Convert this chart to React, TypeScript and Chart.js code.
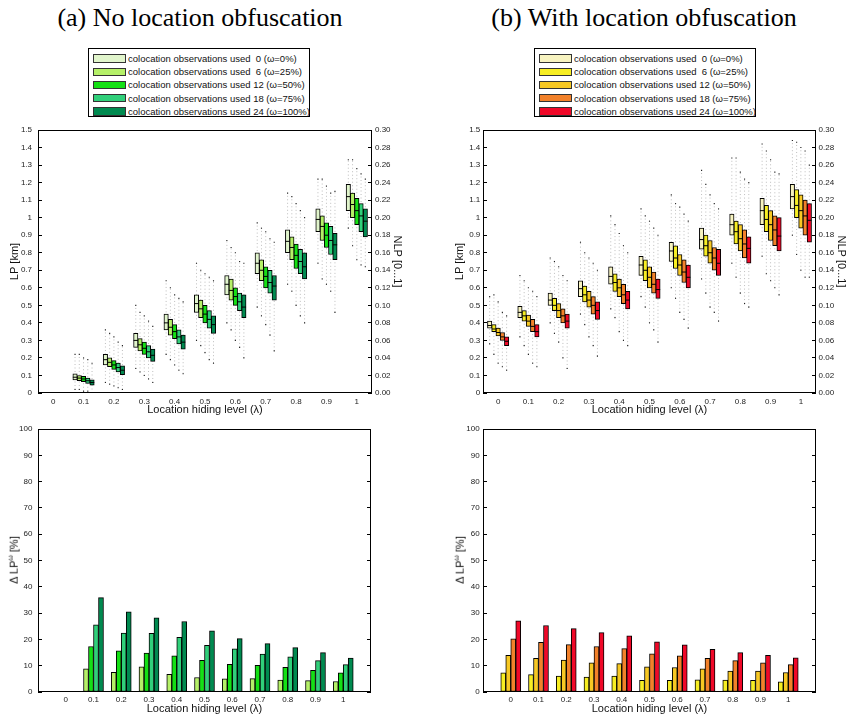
import React, { useEffect, useRef } from 'react';
import { Chart, registerables } from 'chart.js';

Chart.register(...registerables);

// ---------- data ----------
const lambdas = [0, 0.1, 0.2, 0.3, 0.4, 0.5, 0.6, 0.7, 0.8, 0.9, 1];
const lambdaLabels = ['0', '0.1', '0.2', '0.3', '0.4', '0.5', '0.6', '0.7', '0.8', '0.9', '1'];

const lpTicks = [0, 0.1, 0.2, 0.3, 0.4, 0.5, 0.6, 0.7, 0.8, 0.9, 1, 1.1, 1.2, 1.3, 1.4, 1.5];
const lpTickLabels = ['0', '0.1', '0.2', '0.3', '0.4', '0.5', '0.6', '0.7', '0.8', '0.9', '1', '1.1', '1.2', '1.3', '1.4', '1.5'];
const nlpTicks = [0, 0.02, 0.04, 0.06, 0.08, 0.1, 0.12, 0.14, 0.16, 0.18, 0.2, 0.22, 0.24, 0.26, 0.28, 0.3];
const nlpTickLabels = ['0.00', '0.02', '0.04', '0.06', '0.08', '0.10', '0.12', '0.14', '0.16', '0.18', '0.20', '0.22', '0.24', '0.26', '0.28', '0.30'];
const pctTicks = [0, 10, 20, 30, 40, 50, 60, 70, 80, 90, 100];
const pctTickLabels = ['0', '10', '20', '30', '40', '50', '60', '70', '80', '90', '100'];

const seriesLabels = [
  'colocation observations used  0 (\u03c9=0%)',
  'colocation observations used  6 (\u03c9=25%)',
  'colocation observations used 12 (\u03c9=50%)',
  'colocation observations used 18 (\u03c9=75%)',
  'colocation observations used 24 (\u03c9=100%)',
];

const greenColors = ['#e1f5cc', '#b5f068', '#14e014', '#30d07a', '#008a50'];
const warmColors = ['#f7f3c0', '#f7ee23', '#f7c823', '#f2812a', '#f00828'];

// (a) No obfuscation: LP box statistics, rows = series (omega 0..100%), cols = lambda
const aMed = [
  [null, 0.09, 0.19, 0.30, 0.40, 0.51, 0.62, 0.74, 0.865, 0.99, 1.12],
  [null, 0.085, 0.175, 0.275, 0.375, 0.48, 0.585, 0.70, 0.83, 0.95, 1.075],
  [null, 0.08, 0.16, 0.255, 0.35, 0.45, 0.55, 0.665, 0.785, 0.90, 1.04],
  [null, 0.07, 0.145, 0.235, 0.32, 0.42, 0.52, 0.63, 0.75, 0.87, 1.01],
  [null, 0.06, 0.13, 0.215, 0.29, 0.39, 0.49, 0.61, 0.72, 0.845, 0.98],
];
const aQ3 = [
  [null, 0.11, 0.22, 0.34, 0.45, 0.56, 0.67, 0.80, 0.93, 1.05, 1.19],
  [null, 0.10, 0.20, 0.31, 0.42, 0.53, 0.65, 0.76, 0.89, 1.01, 1.14],
  [null, 0.095, 0.185, 0.29, 0.39, 0.50, 0.60, 0.72, 0.85, 0.97, 1.11],
  [null, 0.085, 0.17, 0.27, 0.36, 0.47, 0.57, 0.70, 0.82, 0.95, 1.08],
  [null, 0.075, 0.155, 0.25, 0.33, 0.44, 0.56, 0.67, 0.80, 0.91, 1.05],
];
const aQ1 = [
  [null, 0.075, 0.16, 0.26, 0.36, 0.46, 0.56, 0.68, 0.80, 0.92, 1.04],
  [null, 0.07, 0.15, 0.24, 0.33, 0.43, 0.53, 0.64, 0.76, 0.87, 1.00],
  [null, 0.065, 0.135, 0.22, 0.31, 0.40, 0.50, 0.60, 0.71, 0.83, 0.96],
  [null, 0.055, 0.12, 0.20, 0.28, 0.37, 0.47, 0.57, 0.68, 0.79, 0.92],
  [null, 0.045, 0.105, 0.18, 0.25, 0.34, 0.43, 0.53, 0.65, 0.76, 0.89],
];
const aHi = [
  [null, 0.22, 0.36, 0.50, 0.64, 0.74, 0.87, 0.97, 1.14, 1.22, 1.33],
  [null, 0.22, 0.34, 0.46, 0.60, 0.70, 0.83, 0.94, 1.12, 1.22, 1.33],
  [null, 0.20, 0.32, 0.44, 0.56, 0.68, 0.80, 0.92, 1.08, 1.18, 1.28],
  [null, 0.19, 0.29, 0.41, 0.54, 0.66, 0.75, 0.88, 1.04, 1.14, 1.25],
  [null, 0.17, 0.27, 0.38, 0.52, 0.64, 0.74, 0.86, 1.00, 1.15, 1.22],
];
const aLo = [
  [null, 0.02, 0.06, 0.14, 0.22, 0.30, 0.40, 0.49, 0.62, 0.74, 0.94],
  [null, 0.02, 0.05, 0.12, 0.19, 0.27, 0.36, 0.44, 0.58, 0.65, 0.84],
  [null, 0.01, 0.04, 0.10, 0.16, 0.23, 0.30, 0.39, 0.50, 0.62, 0.76],
  [null, 0.01, 0.03, 0.08, 0.13, 0.19, 0.26, 0.33, 0.44, 0.58, 0.73],
  [null, 0.00, 0.02, 0.06, 0.11, 0.17, 0.20, 0.24, 0.40, 0.46, 0.72],
];

// (b) With obfuscation
const bMed = [
  [0.385, 0.46, 0.53, 0.595, 0.665, 0.73, 0.81, 0.875, 0.96, 1.04, 1.12],
  [0.365, 0.44, 0.50, 0.56, 0.63, 0.70, 0.77, 0.84, 0.92, 0.99, 1.07],
  [0.345, 0.41, 0.47, 0.53, 0.60, 0.66, 0.73, 0.80, 0.88, 0.96, 1.04],
  [0.32, 0.38, 0.44, 0.50, 0.56, 0.62, 0.69, 0.77, 0.85, 0.93, 1.01],
  [0.295, 0.35, 0.41, 0.47, 0.53, 0.59, 0.66, 0.74, 0.825, 0.895, 0.985],
];
const bQ3 = [
  [0.41, 0.495, 0.57, 0.64, 0.72, 0.78, 0.86, 0.94, 1.02, 1.11, 1.19],
  [0.39, 0.47, 0.54, 0.61, 0.68, 0.76, 0.84, 0.90, 0.98, 1.07, 1.16],
  [0.37, 0.445, 0.51, 0.58, 0.65, 0.72, 0.79, 0.87, 0.96, 1.04, 1.13],
  [0.345, 0.42, 0.48, 0.55, 0.62, 0.69, 0.76, 0.83, 0.93, 1.01, 1.10],
  [0.32, 0.39, 0.45, 0.52, 0.58, 0.65, 0.73, 0.82, 0.89, 1.00, 1.08],
];
const bQ1 = [
  [0.37, 0.43, 0.50, 0.55, 0.62, 0.67, 0.75, 0.82, 0.90, 0.96, 1.05],
  [0.35, 0.41, 0.47, 0.52, 0.58, 0.64, 0.71, 0.78, 0.85, 0.92, 1.00],
  [0.325, 0.38, 0.43, 0.49, 0.55, 0.60, 0.67, 0.74, 0.81, 0.87, 0.94],
  [0.30, 0.35, 0.40, 0.45, 0.51, 0.57, 0.63, 0.70, 0.77, 0.84, 0.90],
  [0.27, 0.32, 0.37, 0.42, 0.48, 0.54, 0.60, 0.67, 0.74, 0.81, 0.86],
];
const bHi = [
  [0.55, 0.67, 0.77, 0.86, 1.01, 1.05, 1.13, 1.27, 1.34, 1.42, 1.44],
  [0.56, 0.64, 0.75, 0.80, 0.96, 1.01, 1.08, 1.19, 1.34, 1.38, 1.43],
  [0.52, 0.60, 0.72, 0.77, 0.91, 0.98, 1.06, 1.13, 1.26, 1.33, 1.40],
  [0.46, 0.58, 0.67, 0.74, 0.84, 0.94, 1.02, 1.08, 1.22, 1.26, 1.38],
  [0.44, 0.55, 0.64, 0.70, 0.80, 0.90, 0.98, 1.05, 1.20, 1.25, 1.30],
];
const bLo = [
  [0.28, 0.32, 0.40, 0.45, 0.48, 0.55, 0.60, 0.65, 0.74, 0.78, 0.90],
  [0.22, 0.27, 0.34, 0.39, 0.43, 0.49, 0.54, 0.57, 0.66, 0.68, 0.79],
  [0.17, 0.22, 0.29, 0.32, 0.35, 0.40, 0.46, 0.49, 0.57, 0.64, 0.70],
  [0.15, 0.17, 0.20, 0.27, 0.30, 0.36, 0.42, 0.46, 0.51, 0.60, 0.66],
  [0.13, 0.15, 0.14, 0.21, 0.27, 0.29, 0.37, 0.41, 0.49, 0.56, 0.66],
];

// Delta LP^omega [%], rows = omega 25%, 50%, 75%, 100%
const aDelta = [
  [0, 8.8, 7.5, 9.6, 6.7, 5.5, 5.0, 5.1, 4.5, 4.3, 4.0],
  [0, 17.3, 15.7, 14.8, 13.8, 12.0, 10.5, 10.1, 9.4, 8.2, 7.3],
  [0, 25.5, 22.4, 22.3, 20.8, 17.7, 16.4, 14.4, 13.4, 11.9, 10.4],
  [0, 35.9, 30.5, 28.2, 26.8, 23.3, 20.3, 18.4, 16.9, 15.0, 12.9],
];
const bDelta = [
  [7.3, 6.6, 6.1, 5.7, 6.1, 4.4, 4.4, 4.6, 4.5, 4.4, 3.9],
  [13.9, 12.8, 12.1, 11.1, 10.8, 9.6, 9.3, 8.8, 8.0, 8.0, 7.4],
  [20.2, 18.9, 18.0, 17.3, 16.5, 14.5, 13.8, 12.8, 11.9, 11.1, 10.4],
  [27.1, 25.3, 24.1, 22.6, 21.4, 19.1, 17.9, 16.2, 15.0, 13.9, 13.0],
];

// ---------- styling ----------
const SANS = '"Liberation Sans", Arial, Helvetica, sans-serif';
const SERIF = '"Liberation Serif", "Times New Roman", serif';
Chart.defaults.font.family = SANS;

const BOX_STEP = 0.014;
const BAR_STEP = 0.018;

const framePlugin = {
  id: 'frame',
  afterDraw(chart: any) {
    const { ctx, chartArea } = chart;
    const l = Math.round(chartArea.left) + 0.5;
    const t = Math.round(chartArea.top) + 0.5;
    const r = Math.round(chartArea.right) - 0.5;
    const b = Math.round(chartArea.bottom) - 0.5;
    ctx.save();
    ctx.strokeStyle = '#000';
    ctx.lineWidth = 1;
    ctx.strokeRect(l, t, r - l, b - t);
    ctx.restore();
  },
};

function setTicks(values: number[]) {
  return (s: any) => {
    s.ticks = values.map((v) => ({ value: v }));
  };
}

function xAxis(min: number, max: number, height: number, labelPad: number, titlePad: number) {
  return {
    type: 'linear',
    min,
    max,
    offset: false,
    afterBuildTicks: setTicks(lambdas),
    afterFit: (s: any) => {
      s.height = height;
      s.paddingLeft = 0;
      s.paddingRight = 0;
    },
    grid: { display: false, drawTicks: false },
    border: { display: false },
    ticks: {
      autoSkip: false,
      maxRotation: 0,
      padding: labelPad,
      color: '#222',
      font: { size: 8 },
      callback: (_v: any, i: number) => lambdaLabels[i],
    },
    title: {
      display: true,
      text: 'Location hiding level (\u03bb)',
      color: '#111',
      font: { size: 11 },
      padding: { top: 0, bottom: titlePad },
    },
  };
}

function yAxis(opts: any) {
  const { position, min, max, ticks, labels, width, pad, title, titlePad, showLabels = true } = opts;
  return {
    type: 'linear',
    position,
    min,
    max,
    afterBuildTicks: setTicks(ticks),
    afterFit: (s: any) => {
      s.width = width;
      s.paddingTop = 0;
      s.paddingBottom = 0;
    },
    grid: { display: true, drawOnChartArea: false, drawTicks: true, tickLength: -4, color: '#000' },
    border: { display: false },
    ticks: {
      display: showLabels,
      autoSkip: false,
      padding: pad,
      color: '#222',
      font: { size: 8 },
      callback: (_v: any, i: number) => labels[i],
    },
    title: title
      ? { display: true, text: title, color: '#111', font: { size: 11 }, padding: { top: titlePad, bottom: 0 } }
      : { display: false },
  };
}

function boxDatasets(med: any[][], q1: any[][], q3: any[][], lo: any[][], hi: any[][], colors: string[]) {
  const ds: any[] = [];
  for (let s = 0; s < med.length; s++) {
    const off = (s - 2) * BOX_STEP;
    const idx = lambdas.map((_, i) => i).filter((i) => med[s][i] !== null);
    ds.push({
      type: 'line',
      data: idx.flatMap((i) => [
        { x: lambdas[i] + off, y: lo[s][i] },
        { x: lambdas[i] + off, y: hi[s][i] },
        { x: lambdas[i] + off, y: null },
      ]),
      borderColor: '#bdbdbd',
      borderWidth: 1,
      borderDash: [1, 2.5],
      pointRadius: 0,
      spanGaps: false,
      order: 4,
    });
    ds.push({
      type: 'line',
      showLine: false,
      data: idx.flatMap((i) => [
        { x: lambdas[i] + off, y: lo[s][i] },
        { x: lambdas[i] + off, y: hi[s][i] },
      ]),
      pointStyle: 'rect',
      pointRadius: 0.8,
      pointBackgroundColor: '#222',
      pointBorderWidth: 0,
      order: 3,
    });
    ds.push({
      type: 'bar',
      label: seriesLabels[s],
      data: idx.map((i) => ({ x: lambdas[i] + off, y: [q1[s][i], q3[s][i]] })),
      backgroundColor: colors[s],
      borderColor: '#000',
      borderWidth: 1,
      borderSkipped: false,
      barThickness: 4.4,
      grouped: false,
      order: 2,
    });
    ds.push({
      type: 'line',
      showLine: false,
      data: idx.map((i) => ({ x: lambdas[i] + off, y: med[s][i] })),
      pointStyle: 'line',
      pointRadius: 2.2,
      pointBorderColor: '#000',
      pointBorderWidth: 1,
      order: 1,
    });
  }
  return ds;
}

function boxConfig(d: any, lay: any) {
  return {
    type: 'bar',
    data: { datasets: boxDatasets(d.med, d.q1, d.q3, d.lo, d.hi, d.colors) },
    options: {
      responsive: false,
      maintainAspectRatio: false,
      animation: false,
      devicePixelRatio: 1,
      events: [],
      layout: { padding: { top: lay.top, left: 0, right: 0, bottom: 0 } },
      plugins: { legend: { display: false }, tooltip: { enabled: false } },
      scales: {
        x: xAxis(-0.05, 1.05, lay.xh, 4, 3),
        y: yAxis({ position: 'left', min: 0, max: 1.5, ticks: lpTicks, labels: lpTickLabels, width: lay.yw, pad: lay.ypad, title: 'LP [km]', titlePad: lay.ytp }),
        y2: yAxis({ position: 'right', min: 0, max: 0.3, ticks: nlpTicks, labels: nlpTickLabels, width: lay.y2w, pad: lay.y2pad, title: 'NLP [0...1]', titlePad: lay.y2tp }),
      },
    },
    plugins: [framePlugin],
  };
}

function barConfig(delta: number[][], colors: string[], lay: any) {
  const datasets = delta.map((row, k) => ({
    type: 'bar',
    label: seriesLabels[k + 1],
    data: lambdas.map((l, i) => ({ x: l + (k - 1.5) * BAR_STEP, y: row[i] })),
    backgroundColor: colors[k + 1],
    borderColor: '#000',
    borderWidth: 1,
    borderSkipped: false,
    barThickness: 5,
    grouped: false,
  }));
  return {
    type: 'bar',
    data: { datasets },
    options: {
      responsive: false,
      maintainAspectRatio: false,
      animation: false,
      devicePixelRatio: 1,
      events: [],
      layout: { padding: { top: lay.top, left: 0, right: 0, bottom: 0 } },
      plugins: { legend: { display: false }, tooltip: { enabled: false } },
      scales: {
        x: xAxis(-0.1, 1.1, lay.xh, 3, 4),
        y: yAxis({ position: 'left', min: 0, max: 100, ticks: pctTicks, labels: pctTickLabels, width: lay.yw, pad: lay.ypad }),
        y2: yAxis({ position: 'right', min: 0, max: 100, ticks: pctTicks, labels: pctTickLabels, width: lay.y2w, pad: 4, showLabels: false }),
      },
    },
    plugins: [framePlugin],
  };
}

function ChartCanvas({ left, top, width, height, make }: any) {
  const ref = useRef<HTMLCanvasElement>(null);
  useEffect(() => {
    const chart = new Chart(ref.current as HTMLCanvasElement, make());
    return () => chart.destroy();
  }, []);
  return (
    <canvas
      ref={ref}
      width={width}
      height={height}
      style={{ position: 'absolute', left, top, width, height, display: 'block' }}
    />
  );
}

function Legend({ left, colors }: any) {
  return (
    <div
      style={{
        position: 'absolute',
        left,
        top: 48,
        width: 222,
        height: 69,
        boxSizing: 'border-box',
        border: '1px solid #000',
        background: '#fff',
        paddingTop: 3,
        paddingLeft: 4,
        fontFamily: SANS,
        fontSize: 9.5,
      }}
    >
      {seriesLabels.map((lab, i) => (
        <div key={i} style={{ display: 'flex', alignItems: 'center', height: 13.2 }}>
          <div
            style={{
              width: 33,
              height: 8.5,
              boxSizing: 'border-box',
              border: '1px solid #333',
              background: colors[i],
              marginRight: 2,
              flex: 'none',
            }}
          />
          <span style={{ whiteSpace: 'pre', color: '#111' }}>{lab}</span>
        </div>
      ))}
    </div>
  );
}

function DeltaTitle({ x }: any) {
  return (
    <div
      style={{
        position: 'absolute',
        left: x,
        top: 560,
        transform: 'translate(-50%, -50%) rotate(-90deg)',
        fontFamily: SANS,
        fontSize: 11,
        color: '#111',
        whiteSpace: 'nowrap',
        lineHeight: 1,
      }}
    >
      {'\u0394 LP'}
      <sup style={{ fontSize: 7, verticalAlign: 'super' }}>{'\u03c9'}</sup>
      {' [%]'}
    </div>
  );
}

const aData = { med: aMed, q1: aQ1, q3: aQ3, lo: aLo, hi: aHi, colors: greenColors };
const bData = { med: bMed, q1: bQ1, q3: bQ3, lo: bLo, hi: bHi, colors: warmColors };

export default function App() {
  return (
    <div
      style={{
        position: 'fixed',
        left: 0,
        top: 0,
        width: 846,
        height: 720,
        overflow: 'hidden',
        background: '#fff',
      }}
    >
      <div style={{ position: 'absolute', left: 0, width: 400, top: 3, textAlign: 'center', fontFamily: SERIF, fontSize: 26, color: '#000' }}>
        (a) No location obfuscation
      </div>
      <div style={{ position: 'absolute', left: 444, width: 400, top: 3, textAlign: 'center', fontFamily: SERIF, fontSize: 26, color: '#000' }}>
        (b) With location obfuscation
      </div>
      <Legend left={88} colors={greenColors} />
      <Legend left={534} colors={warmColors} />

      <ChartCanvas
        left={0}
        top={120}
        width={420}
        height={300}
        make={() => boxConfig(aData, { top: 10, xh: 27, yw: 38, ypad: 10, ytp: 8.4, y2w: 48, y2pad: 7, y2tp: 16.7 })}
      />
      <ChartCanvas
        left={423}
        top={120}
        width={426}
        height={300}
        make={() => boxConfig(bData, { top: 10, xh: 27, yw: 60, ypad: 6.7, ytp: 30.4, y2w: 33, y2pad: 6.6, y2tp: 1.4 })}
      />
      <ChartCanvas
        left={0}
        top={420}
        width={420}
        height={300}
        make={() => barConfig(aDelta, greenColors, { top: 9, xh: 28, yw: 38, ypad: 9.6, y2w: 49 })}
      />
      <ChartCanvas
        left={423}
        top={420}
        width={426}
        height={300}
        make={() => barConfig(bDelta, warmColors, { top: 9, xh: 28, yw: 60, ypad: 7.3, y2w: 33 })}
      />
      <DeltaTitle x={13} />
      <DeltaTitle x={459} />
    </div>
  );
}
